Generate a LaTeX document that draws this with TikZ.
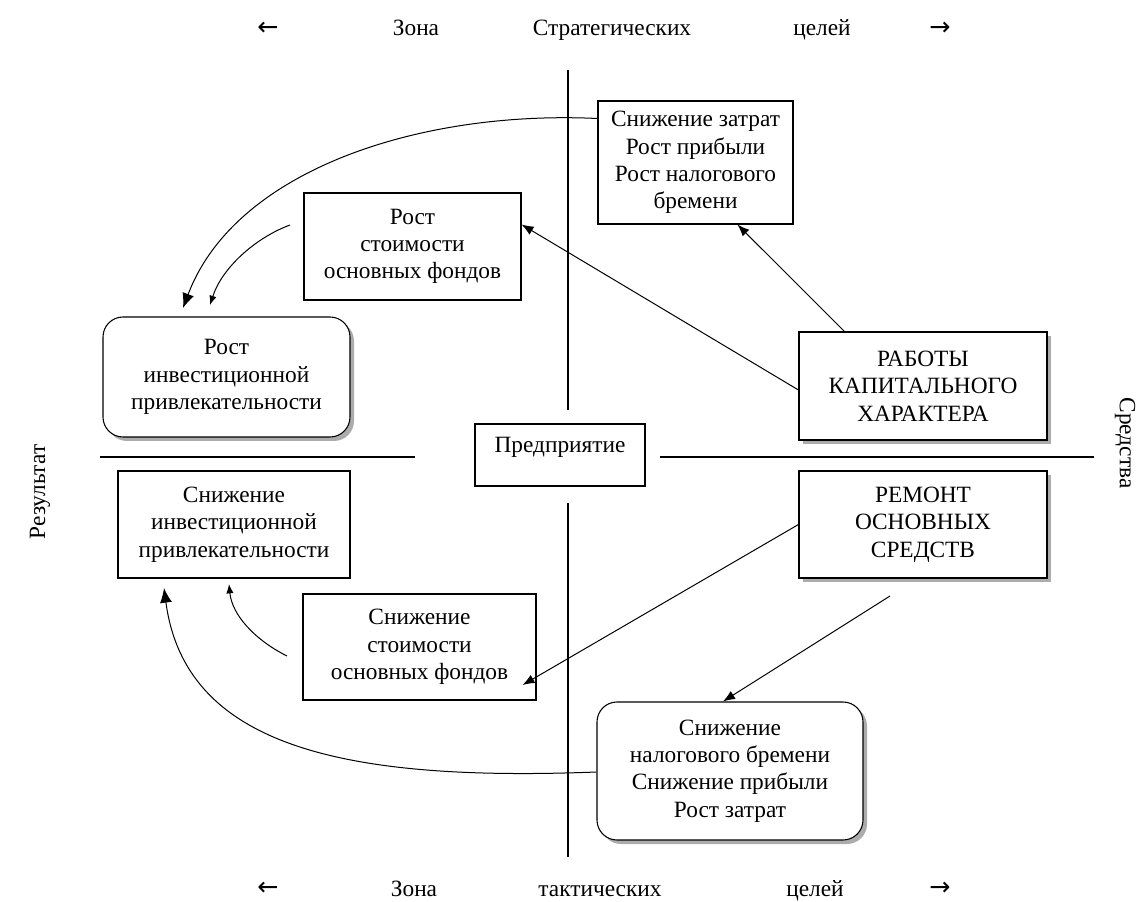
\documentclass[tikz,border=0pt]{standalone}
\usepackage{fontspec}
\setmainfont{Liberation Serif}
\newfontfamily\arrowfont{DejaVu Sans}
\usetikzlibrary{arrows.meta,shadows,calc}
\begin{document}
\begin{tikzpicture}[x=0.75pt,y=-0.75pt,
  font=\fontsize{17.5}{20.5}\selectfont,
  box/.style={draw, line width=0.8pt, fill=white, align=center, inner sep=0pt},
  shad/.style={drop shadow={shadow xshift=3pt, shadow yshift=-3pt, fill=gray!65, opacity=1}},
  rnd/.style={rounded corners=15pt},
  axis/.style={line width=0.8pt},
  conn/.style={line width=0.75pt, -{Latex[length=9pt,width=7pt]}},
  bigc/.style={line width=0.75pt, -{Latex[length=11pt,width=9pt]}},
  smallc/.style={line width=0.75pt, -{Latex[length=7pt,width=5.5pt]}},
  lbl/.style={inner sep=0pt, anchor=base},
  arr/.style={inner sep=0pt, font=\arrowfont\fontsize{19}{22}\selectfont}]
\useasboundingbox (0,0) rectangle (1140,902);

% axes
\draw[axis] (568,70) -- (568,410);
\draw[axis] (568,503) -- (568,857);
\draw[axis] (100,457) -- (415,457);
\draw[axis] (660,457) -- (1094,457);

% top and bottom rows
\node[arr] (tl) at (268,29) {←};
\node[lbl] (t1) at (416,36) {Зона};
\node[lbl] (t2) at (612,36) {Стратегических};
\node[lbl] (t3) at (822,36) {целей};
\node[arr] (tr) at (940,29) {→};
\node[arr] (bl) at (268,889) {←};
\node[lbl] (b1) at (414,896) {Зона};
\node[lbl] (b2) at (600,896) {тактических};
\node[lbl] (b3) at (815,896) {целей};
\node[arr] (br) at (940,889) {→};
\node[inner sep=0pt, rotate=90] (res) at (40,492) {Результат};
\node[inner sep=0pt, rotate=-90] (sred) at (1125,443) {Средства};

% boxes
\node[box, minimum width=195*0.75pt, minimum height=123*0.75pt] (zatr) at (695.5,162.5)
  {Снижение затрат\\Рост прибыли\\Рост налогового\\бремени};
\node[box, minimum width=217*0.75pt, minimum height=107*0.75pt] (rstoim) at (412.5,246.5)
  {Рост\\стоимости\\основных фондов};
\node[box, rnd, shad, minimum width=247*0.75pt, minimum height=120*0.75pt] (rinv) at (226.5,377)
  {Рост\\инвестиционной\\привлекательности};
\node[box, shad, minimum width=248*0.75pt, minimum height=108*0.75pt] (rabot) at (923,386)
  {РАБОТЫ\\КАПИТАЛЬНОГО\\ХАРАКТЕРА};
\node[box, minimum width=170*0.75pt, text height=21.75pt, text depth=24.75pt] (pred) at (560,455)
  {Предприятие};
\node[box, minimum width=232*0.75pt, minimum height=107*0.75pt] (sninv) at (234,524.5)
  {Снижение\\инвестиционной\\привлекательности};
\node[box, shad, minimum width=248*0.75pt, minimum height=107*0.75pt] (remont) at (923,524.5)
  {РЕМОНТ\\ОСНОВНЫХ\\СРЕДСТВ};
\node[box, minimum width=233*0.75pt, minimum height=106*0.75pt] (snstoim) at (419.5,647)
  {Снижение\\стоимости\\основных фондов};
\node[box, rnd, shad, minimum width=266*0.75pt, minimum height=138*0.75pt] (snnal) at (730,771)
  {Снижение\\налогового бремени\\Снижение прибыли\\Рост затрат};

% free ends
\coordinate (c6s) at (290,225);
\coordinate (c6e) at (210,305);
\coordinate (c5e) at (183,308);
\coordinate (c7s) at (287,656);
\coordinate (c7e) at (229,584);
\coordinate (c8e) at (164,588);
\coordinate (c4s) at (890,596);

% straight connectors
\draw[conn] ($(rabot.north west)+(46,0)$) -- ($(zatr.south west)+(140,0)$);
\draw[conn] ($(rabot.west)+(0,4)$) -- ($(rstoim.east)+(0,-22)$);
\draw[conn] (remont.west) -- ($(snstoim.east)+(-14,38)$);
\draw[conn] (c4s) -- ($(snnal.north)+(-7,0)$);

% curved connectors
\draw[bigc] ($(zatr.west)+(0,-44)$) .. controls (420,110) and (235,170) .. (c5e);
\draw[smallc] (c6s) .. controls (255,238) and (222,268) .. (c6e);
\draw[smallc] (c7s) .. controls (255,640) and (232,615) .. (c7e);
\draw[bigc] ($(snnal.west)+(0,1)$) .. controls (340,782) and (185,745) .. (c8e);
\end{tikzpicture}
\end{document}
